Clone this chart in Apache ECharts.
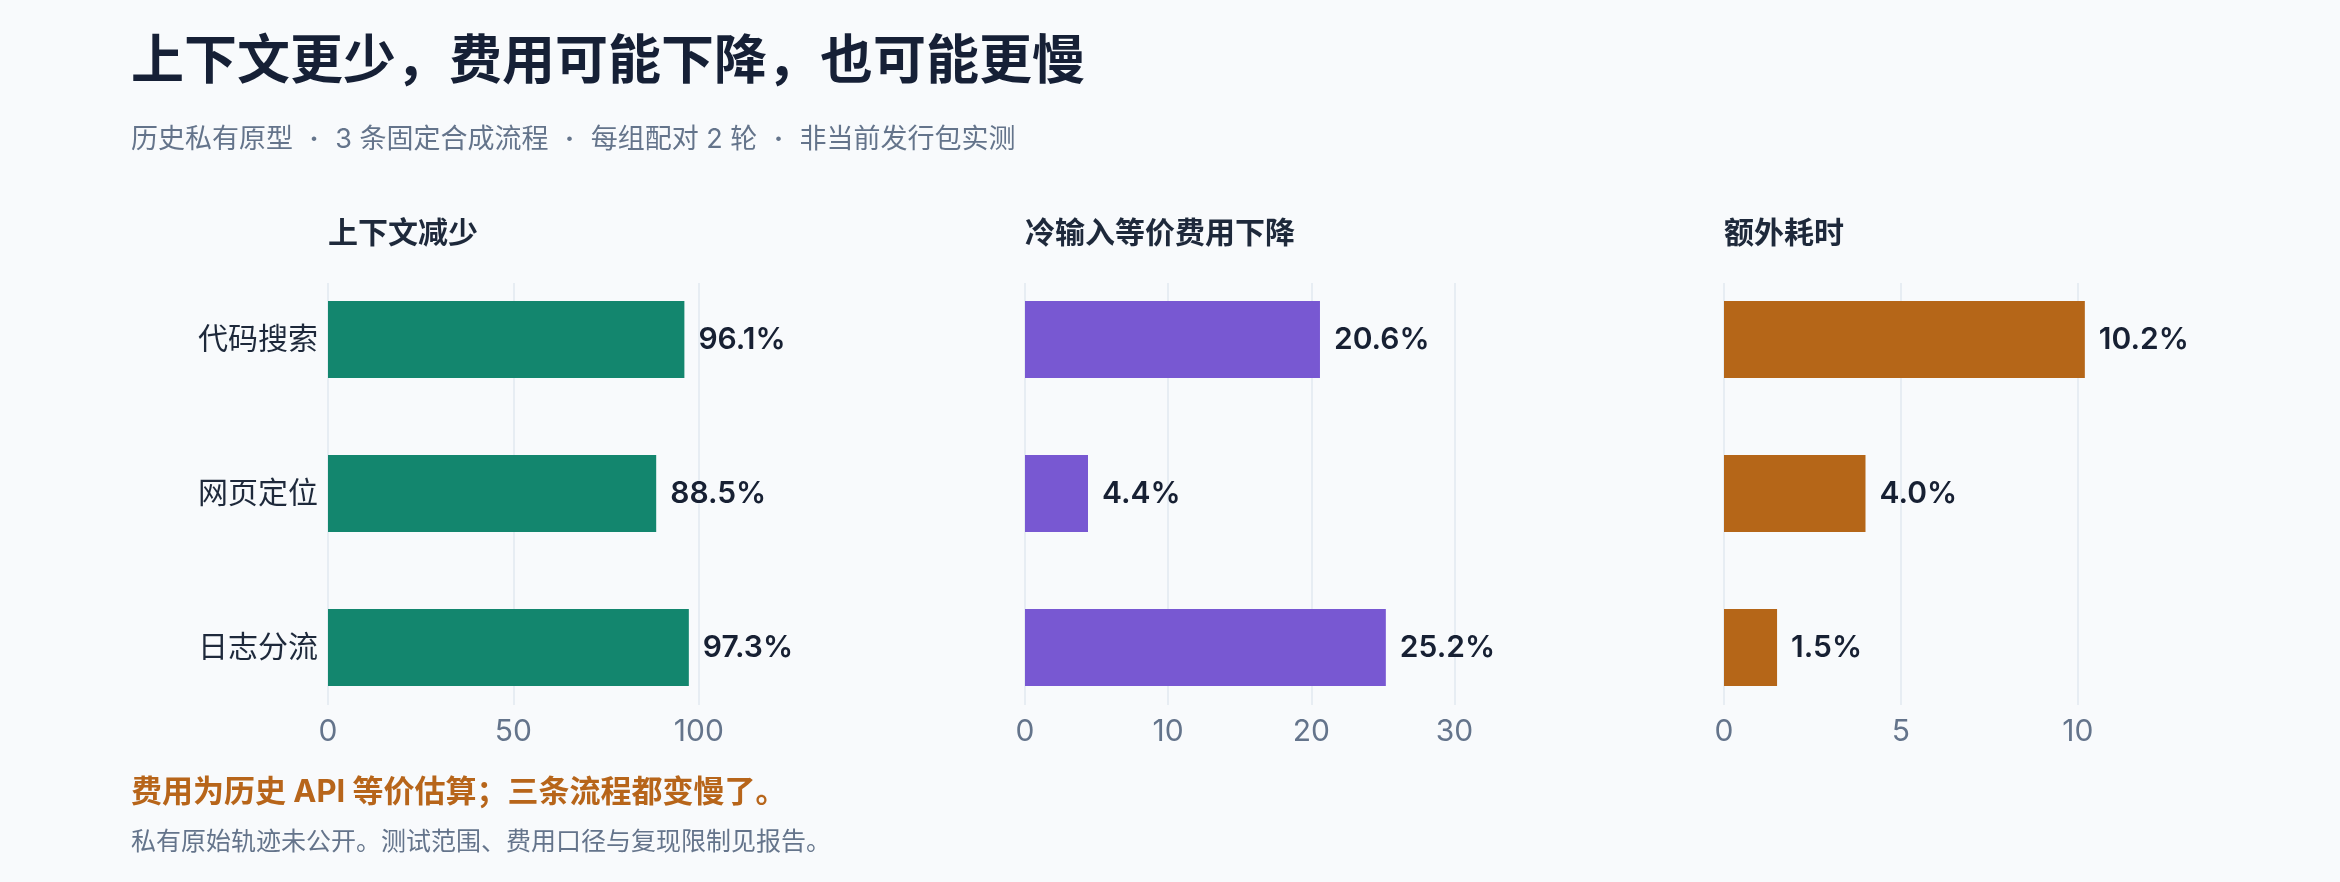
<!DOCTYPE html>
<html>
<head>
<meta charset="utf-8">
<script src="https://cdn.jsdelivr.net/npm/echarts@6/dist/echarts.min.js"></script>
<style>
html,body{margin:0;padding:0;background:#f8fafc;}
#chart{width:2340px;height:882px;}
</style>
</head>
<body>
<div id="chart"></div>
<script>
// ---- data ----
const categories = ['代码搜索', '网页定位', '日志分流'];
const contextReduction = [96.1, 88.5, 97.3];
const costReduction = [20.6, 4.4, 25.2];
const extraTime = [10.2, 4.0, 1.5];
const panelTitles = ['上下文减少', '冷输入等价费用下降', '额外耗时'];
const tickIntervals = [50, 10, 5];
const chartTitle = '上下文更少，费用可能下降，也可能更慢';
const subtitleParts = ['历史私有原型', '3 条固定合成流程', '每组配对 2 轮', '非当前发行包实测'];
const noteMain = '费用为历史 API 等价估算；三条流程都变慢了。';
const noteSub = '私有原始轨迹未公开。测试范围、费用口径与复现限制见报告。';

// ---- layout / style ----
const seriesValues = [contextReduction, costReduction, extraTime];
const barColors = ['#13866e', '#7858d2', '#b56618'];
const panelLeft = [328, 1025, 1724];
const panelWidth = 433;
const barTop = 262.5, barHeight = 462;
const axisTop = 283, axisHeight = 422;
const FONT = 'Inter, "Noto Sans CJK SC", sans-serif';

const grids = [], xAxes = [], yAxes = [], series = [];
seriesValues.forEach((vals, i) => {
  const axMax = Math.max.apply(null, vals) * 1.2;
  grids.push({left: panelLeft[i], width: panelWidth, top: axisTop, height: axisHeight, containLabel: false});
  grids.push({left: panelLeft[i], width: panelWidth, top: barTop, height: barHeight, containLabel: false});
  xAxes.push({
    type: 'value', gridIndex: 2 * i, min: 0, max: axMax, interval: tickIntervals[i],
    axisLine: {show: false}, axisTick: {show: false},
    splitLine: {show: true, showMaxLine: false, lineStyle: {color: '#e2e8f0', width: 1.5}},
    axisLabel: {show: true, showMaxLabel: false, margin: 12, fontSize: 30, color: '#64748b', fontFamily: FONT}
  });
  yAxes.push({type: 'category', gridIndex: 2 * i, data: categories, show: false});
  xAxes.push({
    type: 'value', gridIndex: 2 * i + 1, min: 0, max: axMax, show: false,
    splitLine: {show: false}
  });
  yAxes.push({
    type: 'category', gridIndex: 2 * i + 1, data: categories, inverse: true,
    axisLine: {show: false}, axisTick: {show: false}, splitLine: {show: false},
    axisLabel: {show: i === 0, margin: 10, fontSize: 30, color: '#1e293b', fontFamily: FONT}
  });
  series.push({
    type: 'bar', xAxisIndex: 2 * i + 1, yAxisIndex: 2 * i + 1,
    data: vals, barWidth: 77, clip: false,
    itemStyle: {color: barColors[i]},
    label: {
      show: true, position: 'right', distance: 14,
      formatter: p => p.value.toFixed(1) + '%',
      fontSize: 30, fontWeight: 600, color: '#172033', fontFamily: FONT
    },
    emphasis: {disabled: true}
  });
});

function txt(text, x, y, size, weight, color, rich) {
  const style = {
    text: text, font: weight + ' ' + size + 'px ' + FONT, fill: color,
    textAlign: 'left', textVerticalAlign: 'middle', align: 'left', verticalAlign: 'middle'
  };
  if (rich) style.rich = rich;
  return {type: 'text', x: x, y: y, silent: true, style: style};
}
const subtitleText = subtitleParts.join(' {d|·} ');
const graphics = [
  txt(chartTitle, 131, 63, 53, 'bold', '#162036'),
  txt(subtitleText, 131, 140, 27, 'normal', '#64748b', {
    d: {padding: [0, 9, 0, 9], fontSize: 27, fontWeight: 'bold', color: '#64748b', fontFamily: FONT}
  }),
  txt(noteMain, 131, 793, 31, 'bold', '#b7651a'),
  txt(noteSub, 131, 842, 25, 'normal', '#64748b')
];
panelTitles.forEach((t, i) => graphics.push(txt(t, panelLeft[i], 234, 30, 'bold', '#1e293b')));

const chart = echarts.init(document.getElementById('chart'), null, {renderer: 'canvas'});
chart.setOption({
  backgroundColor: '#f8fafc',
  animation: false,
  grid: grids,
  xAxis: xAxes,
  yAxis: yAxes,
  series: series,
  graphic: graphics
});
</script>
</body>
</html>
